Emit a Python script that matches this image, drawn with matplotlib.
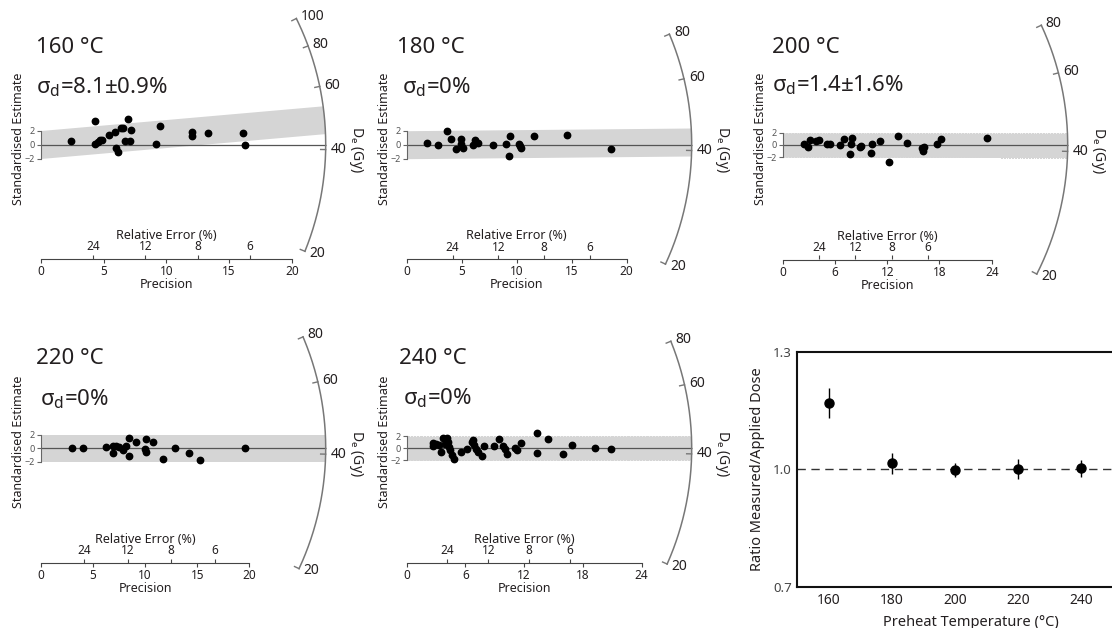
import numpy as np
import matplotlib.pyplot as plt
from matplotlib.patches import Ellipse

plt.rcParams['font.family'] = ['Noto Sans', 'DejaVu Sans']
plt.rcParams['mathtext.fontset'] = 'custom'
plt.rcParams['mathtext.rm'] = 'Noto Sans'
plt.rcParams['mathtext.it'] = 'Noto Sans:italic'

W, H = 1112, 628
TXT = '#231f20'

# --- data ---
temps = [160, 180, 200, 220, 240]
ratio = [1.17, 1.015, 0.998, 1.0, 1.002]
ratio_err = [0.038, 0.026, 0.019, 0.025, 0.022]
sigma_d = ['8.1±0.9%', '0%', '1.4±1.6%', '0%', '0%']
applied_dose = 41.3  # Gy, reference line of the radial plots

p160 = [2.39, 4.35, 4.30, 4.54, 4.72, 4.88, 5.41, 5.94, 6.37, 6.58, 6.95, 7.19,
        6.74, 7.11, 6.00, 6.18, 9.18, 9.52, 12.07, 12.07, 13.35, 16.13, 16.29]
s160 = [0.47, 3.37, 0.14, 0.33, 0.61, 0.71, 1.37, 1.80, 2.37, 2.37, 3.71, 2.09,
        0.57, 0.57, -0.43, -1.06, 0.04, 2.71, 1.80, 1.19, 1.61, 1.71, -0.06]

p180 = [1.82, 2.85, 3.64, 4.03, 4.48, 4.97, 4.97, 5.09, 6.06, 6.24, 6.48, 7.88,
        9.03, 9.36, 9.33, 10.18, 10.30, 10.42, 11.60, 14.57, 18.60]
s180 = [0.20, -0.09, 1.91, 0.81, -0.57, 0.81, 0.14, -0.52, -0.09, 0.62, 0.24, 0.00,
        0.10, 1.24, -1.66, 0.14, -0.14, -0.52, 1.24, 1.43, -0.66]

p200 = [2.48, 2.90, 3.10, 3.82, 4.17, 5.12, 5.43, 6.54, 7.07, 7.96, 7.81, 7.69, 8.84,
        9.02, 10.25, 10.17, 11.17, 12.20, 13.24, 14.24, 16.00, 16.07, 16.22, 17.68,
        18.21, 23.49]
s200 = [0.11, -0.38, 0.87, 0.70, 0.77, 0.11, 0.11, -0.05, 0.93, 1.20, 0.16, -1.48, -0.38,
        -0.11, 0.11, -1.26, 0.60, -2.84, 1.48, 0.33, -0.44, -0.93, -0.33, 0.22,
        0.93, 1.09]

p220 = [2.97, 4.08, 6.29, 6.90, 7.22, 6.96, 7.54, 7.86, 8.15, 8.47, 8.50, 9.14,
        10.10, 9.97, 10.10, 10.74, 11.70, 12.88, 14.22, 15.27, 19.62]
s220 = [0.00, 0.00, 0.20, 0.34, 0.34, -0.75, 0.15, -0.25, 0.34, 1.58, -1.15, 0.99,
        1.34, -0.15, -0.60, 0.90, -1.64, 0.00, -0.70, -1.75, 0.05]

p240 = [2.66, 2.72, 2.99, 3.33, 3.50, 3.68, 4.09, 3.94, 4.19, 4.35, 4.45, 4.63, 4.86,
        5.52, 6.19, 6.64, 6.81, 6.87, 7.08, 7.31, 7.69, 7.90, 8.92, 9.43, 9.87, 10.07,
        10.24, 11.06, 11.30, 11.68, 13.35, 13.35, 14.43, 16.00, 16.88, 19.23, 20.90]
s240 = [0.94, 0.39, 0.72, 0.55, -0.56, 1.67, 1.67, 0.72, 1.11, 0.28, -0.28, -1.11, -1.83,
        -0.61, -0.17, 1.11, 1.39, 0.55, -0.17, -0.61, -1.28, 0.39, 0.39, 1.55, 0.39, -0.17,
        -1.00, 0.11, -0.28, 0.94, 2.60, -0.78, 1.55, -0.94, 0.55, 0.00, -0.06]

precisions = [p160, p180, p200, p220, p240]
estimates = [s160, s180, s200, s220, s240]
prec_max = [20, 20, 24, 20, 24]
prec_step = [5, 5, 6, 5, 6]
de_ticks = [[20, 40, 60, 80, 100], [20, 40, 60, 80], [20, 40, 60, 80],
            [20, 40, 60, 80], [20, 40, 60, 80]]
rel_err = [24, 12, 8, 6]

# --- layout (pixels) ---
origins = [(40.7, 144.5), (406.7, 144.7), (782.7, 145.0), (40.7, 448.3), (406.7, 448.3)]
scale_x = [12.56, 11.0, 8.71, 10.43, 9.79]   # px per precision unit
scale_y = [7.0, 7.0, 6.1, 6.7, 6.0]          # px per standardised-estimate unit
title_pos = [(36, 53.3), (396.7, 52.7), (771.7, 52.7), (36, 364.3), (399.3, 364.3)]
sigma_pos = [(36, 93.3), (401.7, 93.3), (771.7, 91.7), (40, 405), (403.3, 404.3)]
R = 285        # arc radius, px
AXIS_DROP = 114.5

fig = plt.figure(figsize=(W / 100, H / 100), dpi=100)


def radial(i):
    ox, oy = origins[i]
    sx, sy = scale_x[i], scale_y[i]
    left, right = ox - 45, ox + 345
    top, bottom = oy - 142, oy + 152
    ax = fig.add_axes([left / W, 1 - bottom / H, (right - left) / W, (bottom - top) / H])
    ax.set_xlim((left - ox) / sx, (right - ox) / sx)
    ax.set_ylim((oy - bottom) / sy, (oy - top) / sy)
    ax.patch.set_visible(False)

    # grey +-2 band around central value, clipped by the arc
    slope = np.log(ratio[i])
    xs = np.array([0, 40.0])
    band = ax.fill_between(xs, slope * xs - 2, slope * xs + 2, color='#d5d5d5', lw=0, zorder=1)
    clip = Ellipse((0, 0), 2 * R / sx, 2 * R / sy, transform=ax.transData)
    band.set_clip_path(clip)
    ax.hlines(0, 0, R / sx, color='#555555', lw=0.9, zorder=2)

    ax.plot(precisions[i], estimates[i], 'o', color='black', ms=4.6, zorder=3)

    # De arc
    k = sy / sx
    de = np.geomspace(min(de_ticks[i]), max(de_ticks[i]), 200)
    th = np.arctan((np.log(de) - np.log(applied_dose)) * k)
    ax.plot(R * np.cos(th) / sx, R * np.sin(th) / sy, color='#777777', lw=1.1)
    for d in de_ticks[i]:
        t = np.arctan((np.log(d) - np.log(applied_dose)) * k)
        ax.plot([(R - 5) * np.cos(t) / sx, R * np.cos(t) / sx],
                [(R - 5) * np.sin(t) / sy, R * np.sin(t) / sy], color='#777777', lw=1.0)
        ax.text((R + 5) * np.cos(t) / sx, (R + 5) * np.sin(t) / sy, str(d),
                ha='left', va='center', fontsize=10, color=TXT)
    ax.text((R + 30) / sx, -5 / sy, r'D$_\mathrm{e}$ (Gy)', rotation=270,
            ha='center', va='center', fontsize=10, color=TXT)

    # axes
    for s in ['top', 'right']:
        ax.spines[s].set_visible(False)
    ax.spines['left'].set_position(('data', 0))
    ax.spines['left'].set_bounds(-2, 2)
    ax.spines['left'].set_color('#666666')
    ax.spines['left'].set_linewidth(0.8)
    ax.spines['bottom'].set_position(('data', -AXIS_DROP / sy))
    ax.spines['bottom'].set_bounds(0, prec_max[i])
    ax.spines['bottom'].set_color('#444444')
    ax.spines['bottom'].set_linewidth(0.8)

    ax.set_yticks([-2, 0, 2])
    ax.tick_params(axis='y', length=3, width=0.8, pad=1, labelsize=6.5,
                   labelcolor='#555555', color='#666666')
    ax.set_xticks(np.arange(0, prec_max[i] + 1, prec_step[i]))
    ax.tick_params(axis='x', length=3, width=0.8, pad=1.5, labelsize=8.5,
                   labelcolor=TXT, color='#444444')
    mid = (ox + prec_max[i] / 2 * sx - left) / (right - left)
    ax.set_xlabel('Precision', fontsize=9, color=TXT, labelpad=0)
    ax.xaxis.label.set_x(mid)
    ax.set_ylabel('Standardised Estimate', fontsize=9, color=TXT)
    ax.yaxis.set_label_coords((ox - 22 - left) / (right - left),
                              (bottom - (oy - 6)) / (bottom - top))
    ax.yaxis.label.set_va('center')

    frac = (bottom - (oy + AXIS_DROP)) / (bottom - top)
    sec = ax.secondary_xaxis(frac)
    sec.xaxis.set_ticks_position('top')
    sec.xaxis.set_label_position('top')
    sec.set_xticks([100 / r for r in rel_err], labels=[str(r) for r in rel_err])
    sec.tick_params(axis='x', which='both', top=True, bottom=False, labeltop=True,
                    labelbottom=False, length=3, width=0.8, pad=1, labelsize=8.5,
                    labelcolor=TXT, color='#444444')
    for s in sec.spines.values():
        s.set_visible(False)
    sec.set_xlabel('Relative Error (%)', fontsize=9, color=TXT, labelpad=1)
    sec.xaxis.label.set_x(mid)

    tx, ty = title_pos[i]
    fig.text(tx / W, 1 - ty / H, f'{temps[i]} °C', fontsize=16, color=TXT,
             ha='left', va='baseline')
    gx, gy = sigma_pos[i]
    fig.text(gx / W, 1 - gy / H, r'σ$_\mathrm{d}$=' + sigma_d[i], fontsize=16, color=TXT,
             ha='left', va='baseline')


for i in range(5):
    radial(i)

# --- ratio vs preheat temperature ---
ax6 = fig.add_axes([797.3 / W, 1 - 586.7 / H, 110 * 3.155 / W, 235 / H])
ax6.axhline(1.0, color='#333333', lw=1.0, ls=(0, (6, 4)), zorder=1)
ax6.errorbar(temps, ratio, yerr=ratio_err, fmt='o', color='black', ms=6.5,
             elinewidth=1.0, capsize=0, zorder=3)
ax6.set_xlim(150, 260)
ax6.set_ylim(0.7, 1.3)
ax6.set_xticks(temps)
ax6.set_yticks([0.7, 1.0, 1.3])
ax6.tick_params(axis='x', length=0, pad=4.5, labelsize=10, labelcolor=TXT)
ax6.tick_params(axis='y', length=0, pad=4, labelsize=9.5, labelcolor='#444444')
for s in ax6.spines.values():
    s.set_linewidth(1.5)
    s.set_color('#111111')
ax6.set_xlabel('Preheat Temperature (°C)', fontsize=10.5, color=TXT, labelpad=5)
ax6.set_ylabel('Ratio Measured/Applied Dose', fontsize=10.5, color=TXT, labelpad=6)

fig.savefig('out.png', dpi=100)
